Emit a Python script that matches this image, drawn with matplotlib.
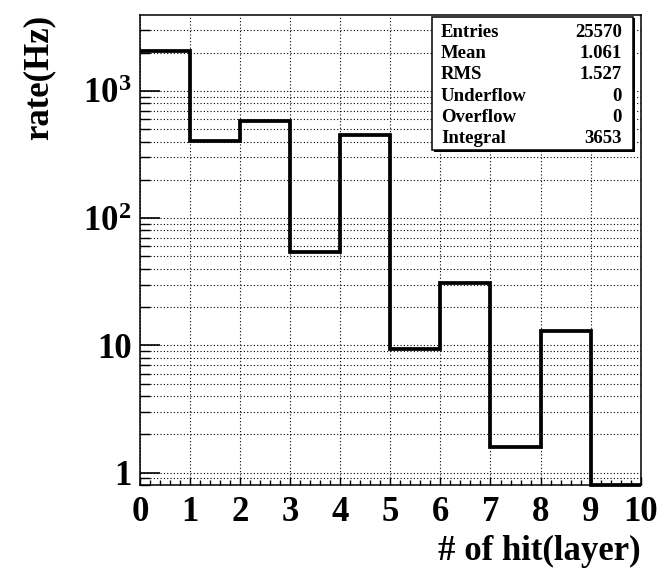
import matplotlib
matplotlib.use('Agg')
import matplotlib.pyplot as plt
import numpy as np
from matplotlib.ticker import FixedLocator, FuncFormatter, LogLocator, MultipleLocator, NullFormatter
from matplotlib.patches import Rectangle

# ---- data ----
bin_edges = np.arange(0, 11)                     # number of hit layers
rates = np.array([2070, 405, 582, 54.7, 450, 9.4, 31.2, 1.6, 12.9, 0.0])  # rate (Hz)
stat_names = ["Entries", "Mean", "RMS", "Underflow", "Overflow", "Integral"]
stat_values = ["25570", "1.061", "1.527", "0", "0", "3653"]
x_label = "# of hit(layer)"
y_label = "rate(Hz)"
y_min, y_max = 0.8, 3950

plt.rcParams['font.family'] = ['Liberation Serif', 'DejaVu Serif']
plt.rcParams['font.weight'] = 'bold'
plt.rcParams['mathtext.fontset'] = 'custom'
plt.rcParams['mathtext.rm'] = 'Liberation Serif:bold'
plt.rcParams['mathtext.it'] = 'Liberation Serif:bold'
plt.rcParams['mathtext.bf'] = 'Liberation Serif:bold'
plt.rcParams['mathtext.default'] = 'rm'

W, H = 657, 570
fig = plt.figure(figsize=(W / 100, H / 100), dpi=100)
ax = fig.add_axes([140 / W, 1 - 485 / H, 500.7 / W, 470 / H])

draw_vals = np.where(rates > 0, rates, y_min)
ax.stairs(draw_vals, bin_edges, color='black', lw=2.7, baseline=None,
          clip_on=False, zorder=3)

ax.set_yscale('log')
ax.set_ylim(y_min, y_max)
ax.set_xlim(bin_edges[0], bin_edges[-1])

def yfmt(v, pos):
    if v < 50:
        return f'{v:g}'
    return r'$10^{%d}$' % round(np.log10(v))

ax.yaxis.set_major_locator(FixedLocator([1, 10, 100, 1000]))
ax.yaxis.set_major_formatter(FuncFormatter(yfmt))
ax.yaxis.set_minor_locator(LogLocator(base=10, subs=np.arange(2, 10), numticks=20))
ax.yaxis.set_minor_formatter(NullFormatter())
ax.xaxis.set_major_locator(MultipleLocator(1))
ax.xaxis.set_minor_locator(MultipleLocator(0.2))

ax.tick_params(which='both', direction='in', top=False, right=False)
ax.tick_params(axis='y', which='major', length=14.4, width=1.2, labelsize=25, pad=6)
ax.tick_params(axis='y', which='minor', length=7.2, width=1.0)
ax.tick_params(axis='x', which='major', length=6, width=1.0, labelsize=25, pad=8)
ax.tick_params(axis='x', which='minor', length=3.6, width=1.0)

for s in ax.spines.values():
    s.set_linewidth(1.1)

gstyle = dict(ls=(0, (1, 2)), color='black', lw=0.8)
ax.grid(True, which='both', axis='y', **gstyle)
ax.grid(True, which='major', axis='x', **gstyle)
ax.set_axisbelow(True)

ax.set_xlabel(x_label, fontsize=25, fontweight='bold', loc='right')
ax.xaxis.set_label_coords(1.0, -0.107)
ax.set_ylabel(y_label, fontsize=25, fontweight='bold', loc='top')
ax.yaxis.set_label_coords(-0.169, 1.0)

# stats box
bx0, by0, bx1, by1 = 431.7, 17, 633, 150
rect = Rectangle((bx0 / W, 1 - by1 / H), (bx1 - bx0) / W, (by1 - by0) / H,
                 transform=fig.transFigure, facecolor='white', edgecolor='black',
                 lw=1.1, zorder=5)
fig.add_artist(rect)
shadow = Rectangle(((bx0 + 2) / W, 1 - (by1 + 1.5) / H), (bx1 - bx0) / W, (by1 - by0) / H,
                   transform=fig.transFigure, facecolor='black', edgecolor='black',
                   lw=0, zorder=4.9)
fig.add_artist(shadow)
for i, (n, v) in enumerate(zip(stat_names, stat_values)):
    yb = 36.7 + 21.3 * i
    fig.text(441 / W, 1 - yb / H, n, fontsize=13.5, fontweight='bold',
             ha='left', va='baseline', zorder=6)
    fig.text(621.7 / W, 1 - yb / H, v, fontsize=13.5, fontweight='bold',
             ha='right', va='baseline', zorder=6)

fig.savefig('out.png', dpi=100)
